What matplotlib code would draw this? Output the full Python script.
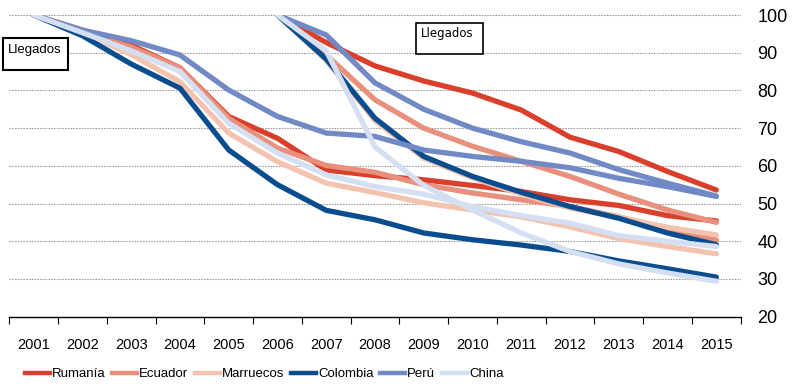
import numpy as np
import matplotlib
matplotlib.use("Agg")
import matplotlib.pyplot as plt
from matplotlib.patches import Rectangle
from matplotlib.lines import Line2D

years = [str(y) for y in range(2001, 2016)]
countries = ["Rumanía", "Ecuador", "Marruecos", "Colombia", "Perú", "China"]
colors = ["#DA3F2B", "#E8907B", "#F4C3AF", "#0A4D8F", "#7189C4", "#D5DFF2"]

# Cohort arrived in 2001 (index = 100 in 2001)
rumania_2001 = [100, 96, 92, 86, 73.1, 67.3, 58.9, 57.4, 56.3, 54.8, 53.2, 51, 49.5, 46.8, 45.4]
ecuador_2001 = [100, 95.5, 91.5, 86, 72.6, 64.7, 60.1, 58.3, 55, 52.8, 51, 49.2, 46.5, 43, 40.4]
marruecos_2001 = [100, 95.5, 89.5, 82.3, 68.7, 61.1, 55.4, 52.9, 50.2, 48.3, 46.5, 43.8, 40.7, 38.6, 36.7]
colombia_2001 = [100, 94.5, 87, 80.6, 64.2, 55, 48.2, 45.7, 42.2, 40.4, 39, 37.3, 34.8, 32.7, 30.5]
peru_2001 = [100, 96, 93.2, 89.4, 80.1, 73.1, 68.7, 67.8, 64.2, 62.5, 61.2, 59.5, 56.7, 54.5, 51.9]
china_2001 = [100, 95.3, 90.5, 85, 71.3, 63.4, 57.6, 54.5, 52.5, 49.2, 46.8, 44.8, 41.5, 40, 38.6]

# Cohort arrived in 2006 (index = 100 in 2006), values 2006..2015
rumania_2006 = [100, 92.7, 86.5, 82.5, 79.3, 74.8, 67.6, 63.8, 58.5, 53.6]
ecuador_2006 = [100, 89.4, 77.5, 70, 65.2, 61.2, 57.2, 52.5, 48.3, 45]
marruecos_2006 = [100, 88, 72, 62, 56.8, 52.5, 48.8, 46.4, 43.7, 41.7]
colombia_2006 = [100, 88.3, 72.6, 62.5, 57.2, 53, 49.2, 46.1, 42.2, 39.1]
peru_2006 = [100, 94.7, 82, 75, 70, 66.4, 63.4, 59, 55.4, 52]
china_2006 = [100, 90.5, 65, 54.8, 48.3, 42.2, 37.3, 34, 31.6, 29.4]

yticks = [20, 30, 40, 50, 60, 70, 80, 90, 100]
box_label = "Llegados"

series_2001 = [rumania_2001, ecuador_2001, marruecos_2001, colombia_2001, peru_2001, china_2001]
series_2006 = [rumania_2006, ecuador_2006, marruecos_2006, colombia_2006, peru_2006, china_2006]

ARIAL = ["Liberation Sans", "DejaVu Sans"]

W, H = 792, 387
fig = plt.figure(figsize=(W / 100, H / 100), dpi=100)
left, right = 9.3 / W, 740.7 / W
bottom, top = 1 - 316.7 / H, 1 - 15 / H
ax = fig.add_axes([left, bottom, right - left, top - bottom])

x = np.arange(len(years))
start06 = years.index("2006")
for i, c in enumerate(countries):
    ax.plot(x, series_2001[i], color=colors[i], lw=3.8,
            solid_capstyle="round", solid_joinstyle="round", zorder=3)
    full = [np.nan] * start06 + list(series_2006[i])
    ax.plot(x, full, color=colors[i], lw=3.8,
            solid_capstyle="round", solid_joinstyle="round", zorder=3)

ax.set_xlim(-0.5, len(years) - 0.5)
ax.set_ylim(20, 100)

# grid
for v in yticks[1:]:
    ax.axhline(v, color="#A0A0A0", lw=0.8, ls=(0, (1.5, 1)), zorder=1)

for s in ["top", "left", "right"]:
    ax.spines[s].set_visible(False)
ax.spines["bottom"].set_color("black")
ax.spines["bottom"].set_linewidth(1.0)

# x ticks: marks at boundaries, labels at centres
ax.set_xticks(np.arange(-0.5, len(years), 1.0))
ax.set_xticklabels([])
ax.tick_params(axis="x", which="major", direction="out", length=5, width=0.8, color="black")
ax.set_xticks(x, minor=True)
ax.set_xticklabels(years, minor=True, fontfamily=ARIAL, fontsize=10.5)
ax.tick_params(axis="x", which="minor", length=0, pad=15)

# y axis on right
ax.yaxis.tick_right()
ax.set_yticks(yticks)
ax.set_yticklabels([str(v) for v in yticks], fontfamily=ARIAL, fontsize=13)
ax.tick_params(axis="y", length=0, pad=12)

# Llegados boxes
def box(x0, y0, x1, y1, lw):
    fig.add_artist(Rectangle((x0 / W, 1 - y1 / H), (x1 - x0) / W, (y1 - y0) / H,
                             transform=fig.transFigure, fill=True, facecolor="white",
                             edgecolor="black", lw=lw, zorder=5))

box(3.3, 37.7, 68.3, 70, 1.5)
fig.text(7.5 / W, 1 - 50 / H, box_label, fontfamily=ARIAL, fontsize=9.5,
         va="center", ha="left", zorder=6)
box(416, 22.7, 483.3, 54, 1.2)
fig.text(420.5 / W, 1 - 33.5 / H, box_label, fontfamily=["DejaVu Sans"], fontsize=8.5,
         va="center", ha="left", zorder=6)

# legend
handles = [Line2D([0], [0], color=colors[i], lw=3.2) for i in range(len(countries))]
fig.legend(handles, countries, loc="center left", bbox_to_anchor=(25 / W, 1 - 374 / H),
           ncol=6, frameon=False, prop={"family": ARIAL, "size": 9.5},
           handlelength=1.9, handletextpad=0.15, columnspacing=0.5,
           borderpad=0, borderaxespad=0)

fig.savefig("out.png", dpi=100)
